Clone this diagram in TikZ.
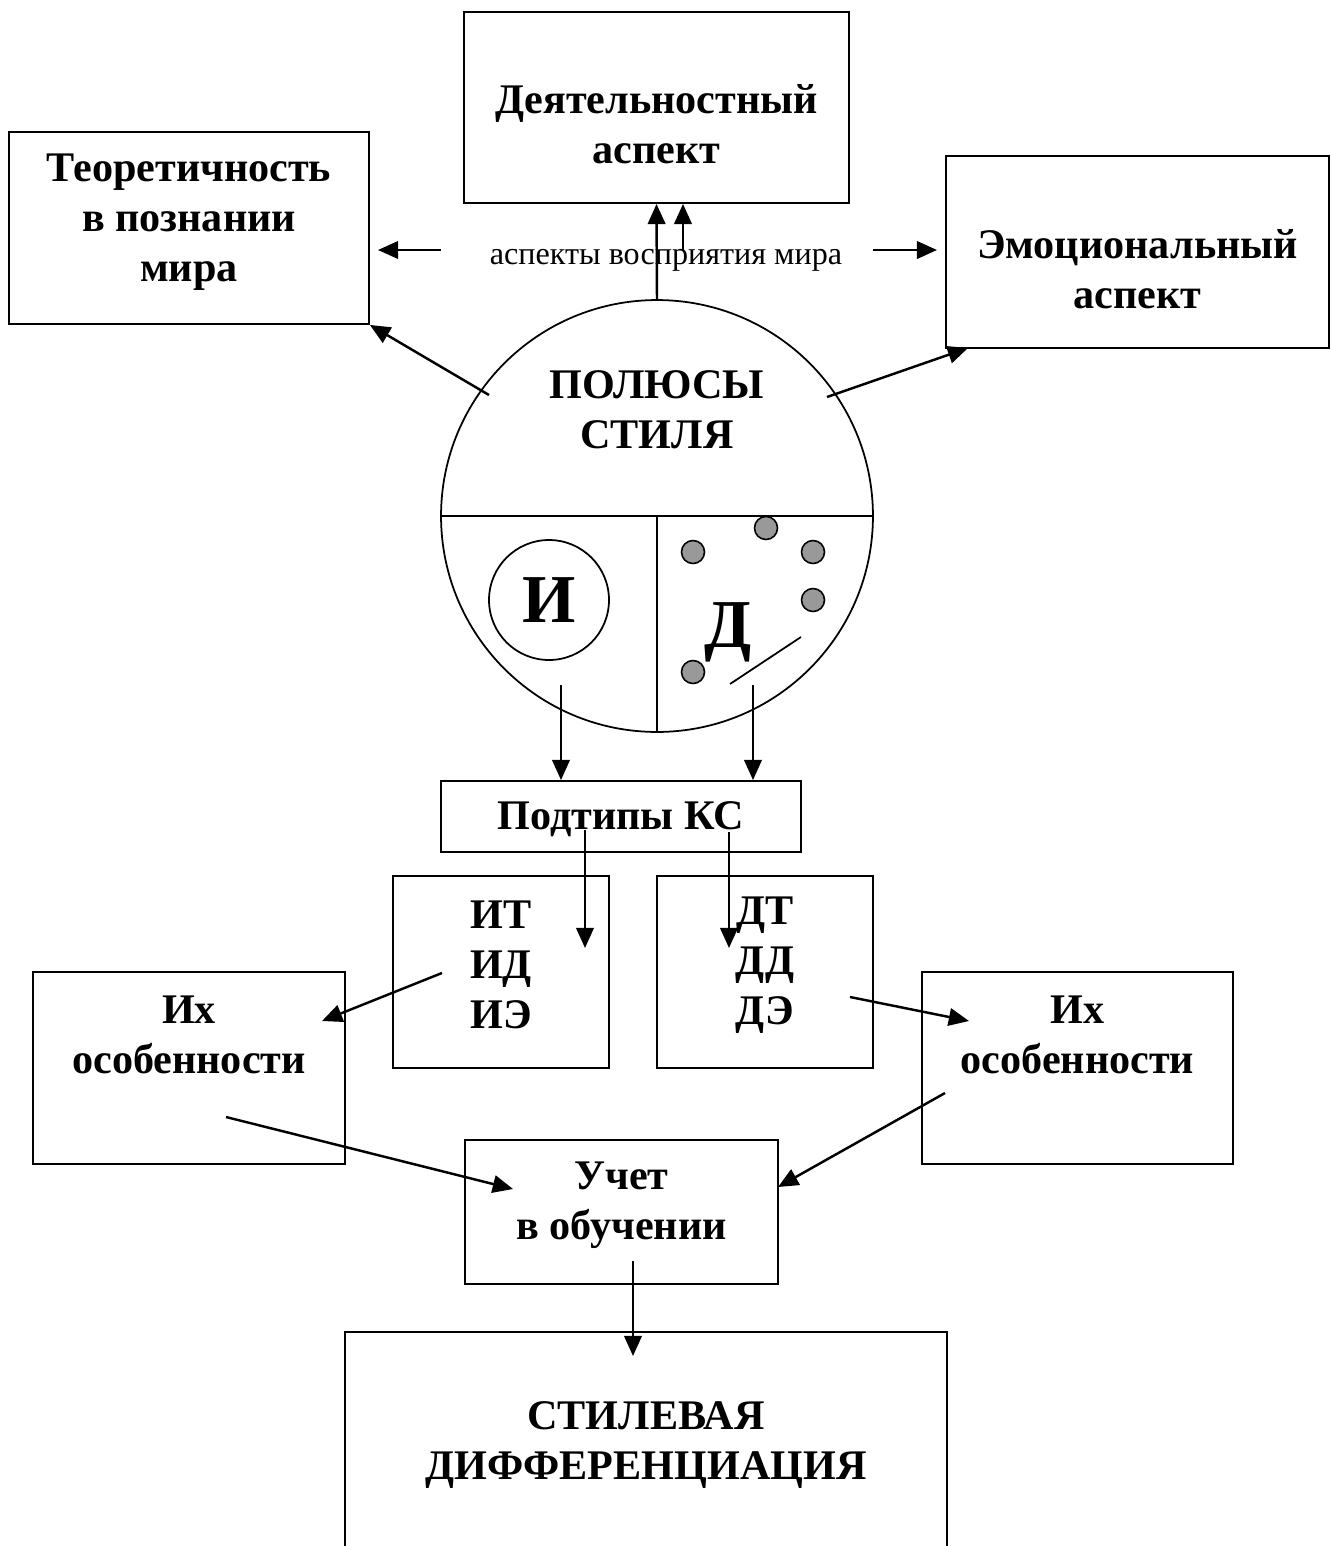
\documentclass[tikz,border=0pt]{standalone}
\usepackage{fontspec}
\setmainfont{Liberation Serif}
\usetikzlibrary{positioning,arrows.meta,calc}

\begin{document}
\begin{tikzpicture}[
  x=0.02cm, y=-0.02cm,
  box/.style={draw, line width=1.1pt, inner sep=0pt},
  lbl/.style={font=\fontsize{24}{28.45}\selectfont\bfseries, align=center},
  big/.style={font=\fontsize{39}{44}\selectfont\bfseries},
  arr/.style={-{Triangle[length=11.5pt,width=10pt]}, line width=1.4pt},
  dot/.style={circle, draw, line width=0.9pt, fill=black!40, minimum size=0.46cm, inner sep=0pt}
]
  \useasboundingbox (0,0) rectangle (1330,1546);

  % upper boxes
  \node[box, minimum width=7.7cm, minimum height=3.82cm] (act) at (656.5,107.5) {};
  \node[lbl] at (656.5,124) {Деятельностный\\аспект};
  \node[box, minimum width=7.2cm, minimum height=3.84cm] (theo) at (189,228) {};
  \node[lbl] at (189,222) {Теоретичность\\в познании\\мира};
  \node[box, minimum width=7.66cm, minimum height=3.84cm] (emo) at (1137.5,252) {};
  \node[lbl] at (1137.5,269) {Эмоциональный\\аспект};
  \node[font=\fontsize{18.3}{22}\selectfont, anchor=base] (asp) at (666,264) {аспекты восприятия мира};

  % the circle
  \node[circle, draw, line width=1pt, minimum size=8.64cm, inner sep=0pt] (pole) at (657,516) {};
  \draw[line width=1pt] (pole.west) -- (pole.east);
  \draw[line width=1pt] (pole.center) -- (pole.south);
  \node[lbl] at (657,410) {ПОЛЮСЫ\\СТИЛЯ};
  \node[circle, draw, line width=1pt, minimum size=2.4cm, inner sep=0pt, big] (icirc) at (549,600) {И};
  \node[big, anchor=base] (dlet) at (728,647) {Д};
  \foreach \p in {(693,552),(766,528),(813,552),(813,600),(693,672)}
    \node[dot] at \p {};
  \coordinate (dl1) at (730,684);
  \coordinate (dl2) at (801,637);
  \draw[line width=1pt] (dl1) -- (dl2);

  % subtypes
  \node[box, minimum width=7.2cm, minimum height=1.42cm] (sub) at (621,816.5) {};
  \node[lbl] at (621,819) {Подтипы КС};
  \node[box, minimum width=4.32cm, minimum height=3.84cm] (itbox) at (501,972) {};
  \node[box, minimum width=4.32cm, minimum height=3.84cm, right=0.92cm of itbox] (dtbox) {};
  \node[lbl] at (501,965) {ИТ\\ИД\\ИЭ};
  \node[lbl] at (765,965) {ДТ\\ДД\\ДЭ};

  % features and training
  \node[box, minimum width=6.24cm, minimum height=3.84cm] (featL) at (189,1068) {};
  \node[lbl] at (189,1035) {Их\\особенности};
  \node[box, minimum width=6.22cm, minimum height=3.84cm] (featR) at (1077.5,1068) {};
  \node[lbl] at (1077.5,1035) {Их\\особенности};
  \node[box, minimum width=6.26cm, minimum height=2.88cm] (uchet) at (621.5,1212) {};
  \node[lbl] at (621.5,1205) {Учет\\в обучении};
  \node[box, minimum width=12.04cm, minimum height=5.36cm] (fin) at (646,1466) {};
  \node[lbl] at (646,1445) {СТИЛЕВАЯ\\ДИФФЕРЕНЦИАЦИЯ};

  % arrow ends
  \coordinate (up2) at (683,250);
  \coordinate (lf1) at (441,250);
  \coordinate (lf2) at (378,250);
  \coordinate (rt1) at (873,250);
  \coordinate (rt2) at (937,250);
  \coordinate (dgl) at (489,395);
  \coordinate (dgr) at (827,397);
  \coordinate (emotip) at (968,348);
  \coordinate (iout) at (561,685);
  \coordinate (dout) at (753,685);
  \coordinate (s1) at (585,830);
  \coordinate (s1t) at (585,948);
  \coordinate (s2) at (729,832);
  \coordinate (s2t) at (729,948);
  \coordinate (id) at (442,973);
  \coordinate (idt) at (322,1021);
  \coordinate (de) at (850,997);
  \coordinate (det) at (969,1021);
  \coordinate (fl) at (226,1117);
  \coordinate (flt) at (513,1189);
  \coordinate (fr) at (945,1093);
  \coordinate (frt) at (778,1187);
  \coordinate (uo) at (633,1261);
  \coordinate (uot) at (633,1356);

  % arrows
  \draw[arr] (pole.north) -- (act.south);
  \draw[arr] (up2) -- (up2 |- act.south);
  \draw[arr] (lf1) -- (lf2);
  \draw[arr] (rt1) -- (rt2);
  \draw[arr] (dgl) -- (theo.south east);
  \draw[arr] (dgr) -- (emotip);
  \draw[arr] (iout) -- (iout |- sub.north);
  \draw[arr] (dout) -- (dout |- sub.north);
  \draw[arr] (s1) -- (s1t);
  \draw[arr] (s2) -- (s2t);
  \draw[arr] (id) -- (idt);
  \draw[arr] (de) -- (det);
  \draw[arr] (fl) -- (flt);
  \draw[arr] (fr) -- (frt);
  \draw[arr] (uo) -- (uot);
\end{tikzpicture}
\end{document}
